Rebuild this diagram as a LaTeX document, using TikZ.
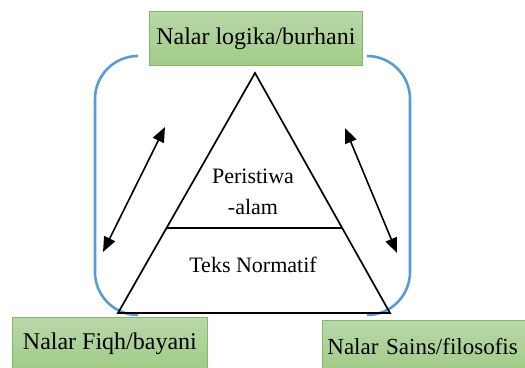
\documentclass[tikz,border=0pt]{standalone}
\usepackage{fontspec}
\setmainfont{Liberation Serif}
\newfontfamily\nalarfont{Liberation Serif}
\usetikzlibrary{calc,arrows.meta}

\definecolor{nalarline}{HTML}{82B964}
\definecolor{nalartop}{HTML}{B8D8A9}
\definecolor{nalarbot}{HTML}{A1CB87}
\definecolor{kurung}{HTML}{5B9BD5}

\begin{document}
\begin{tikzpicture}[x=1pt,y=-1pt,every node/.style={inner sep=0pt},
    nalar/.style={draw=nalarline,line width=0.8pt,top color=nalartop,
      bottom color=nalarbot,anchor=north west,minimum height=52pt,
      font=\nalarfont\fontsize{24}{28}\selectfont},
    isi/.style={font=\nalarfont\fontsize{22}{31}\selectfont,align=center},
    kurungline/.style={draw=kurung,line width=2.6pt,rounded corners=43pt},
    duaarah/.style={line width=1.6pt,{Triangle[length=15pt,width=12pt]}-{Triangle[length=15pt,width=12pt]}}]

    \clip (0,0) rectangle (525,367);

    \node (nLogika) [nalar,minimum width=213pt,minimum height=54pt] at (149,11) {Nalar logika/burhani};
    \node (nFiqh) [nalar,minimum width=195pt] at (12,317) {Nalar Fiqh/bayani};
    \node (nSains) [nalar,minimum width=215pt,inner xsep=5pt,text width=205pt,
      font=\nalarfont\fontsize{23}{28}\selectfont] at (322,320) {Nalar Sains/filosofis};

    \coordinate (kA) at (138,56);
    \coordinate (kB) at (138,315);
    \coordinate (kC) at (368,56);
    \coordinate (kD) at (367,315);
    \draw[kurungline] (kA) -| ($(kB)+(-43,0)$) -- (kB);
    \draw[kurungline] (kC) -| ($(kD)+(43,0)$) -- (kD);

    \coordinate (puncak) at (255,73);
    \coordinate (kiri) at (118,313);
    \coordinate (kanan) at (390,313);
    \draw[line width=1.7pt] (puncak) -- (kiri) -- (kanan) -- cycle;
    \draw[line width=2.8pt] ($(puncak)!0.646!(kiri)$) -- ($(puncak)!0.646!(kanan)$);

    \node (peristiwa) [isi] at (253,192) {Peristiwa\\-alam};
    \node (teks) [isi] at (253,265) {Teks Normatif};

    \coordinate (pA) at (165,127);
    \coordinate (pB) at (103,252);
    \coordinate (pC) at (345,128);
    \coordinate (pD) at (397,253);
    \draw[duaarah] (pA) -- (pB);
    \draw[duaarah] (pC) -- (pD);
  \end{tikzpicture}
\end{document}
